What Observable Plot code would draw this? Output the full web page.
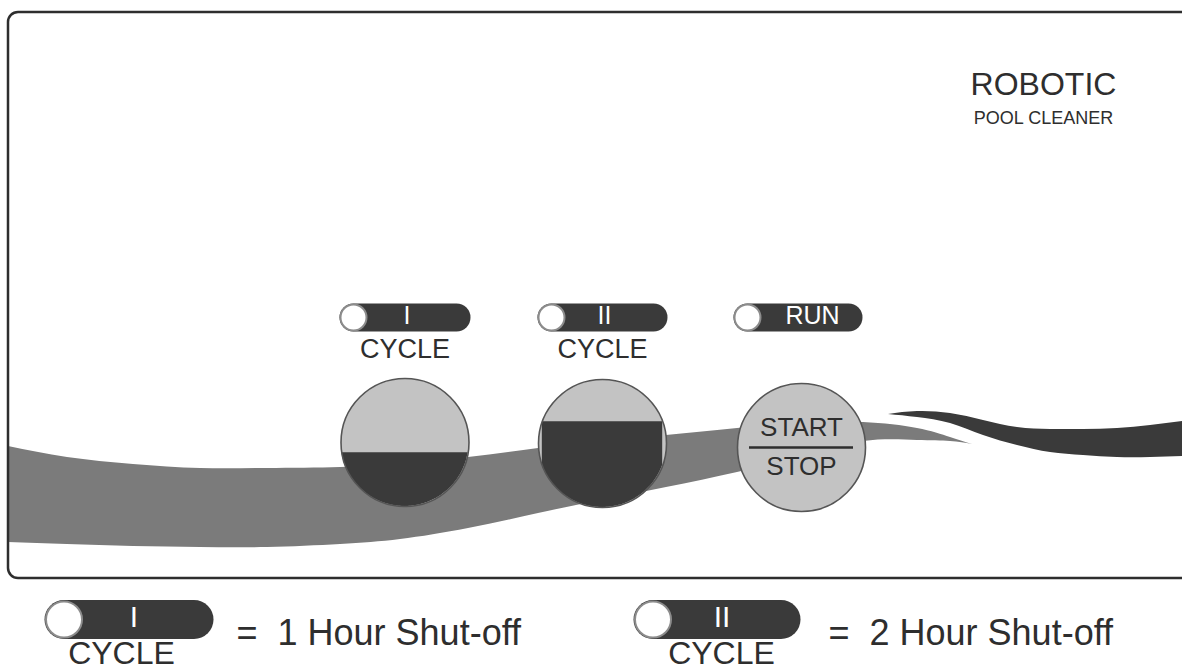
<!DOCTYPE html>
<html><head><meta charset="utf-8">
<script src="https://cdn.jsdelivr.net/npm/d3@7"></script>
<script src="https://cdn.jsdelivr.net/npm/@observablehq/plot@0.6"></script>
<style>html,body{margin:0;padding:0;background:#fff;overflow:hidden}</style>
</head><body><div id="chart"></div>
<script>
// ---- data ----
const panelFrame = [{x1: 8, x2: 1240, y1: 12, y2: 578}];
const titleText = ["ROBOTIC", "POOL CLEANER"];
const indicatorLabels = ["I", "II", "RUN"];
const indicatorX1 = [339, 537, 733];
const indicatorX2 = [470, 667, 862];
const indicatorY = 317;
const cycleLabels = ["CYCLE", "CYCLE"];
const buttonX = [404.5, 602, 801];
const buttonY = [442, 443, 447];
const buttonR = [64, 64, 63];
const cycleFill = [0.42, 0.67];        // dark share of cycle buttons
const startStop = ["START", "STOP"];
const bandX      = [8,   67,  133, 200, 267, 340, 400, 468, 538, 600, 666, 737, 800, 863, 917, 950, 972];
const bandTop    = [446, 457, 464, 468, 468, 467, 463, 457, 448, 441, 435, 428, 423, 422, 428, 437, 444];
const bandBottom = [542, 544, 546, 547, 547, 544, 539, 528, 513, 500, 487, 472, 456, 441, 440, 441, 444];
const swooshX      = [888, 917, 950, 983, 1017, 1050, 1083, 1117, 1150, 1182];
const swooshTop    = [414, 411, 413, 420, 427,  429,  429,  428,  425,  421];
const swooshBottom = [414, 417, 423, 435, 445,  452,  455,  457,  457,  456];
const legendLabels = ["I", "II"];
const legendText = ["=  1 Hour Shut-off", "=  2 Hour Shut-off"];
const legendX1 = [44, 633];
const legendX2 = [213, 800];
const legendY = 619;
const legendTextX = [236, 828];
const legendCycleX = [121, 721];

// ---- derived tables ----
const band = bandX.map((x, i) => ({x, y1: bandTop[i], y2: bandBottom[i]}));
const swoosh = swooshX.map((x, i) => ({x, y1: swooshTop[i], y2: swooshBottom[i]}));
const buttons = buttonX.map((x, i) => ({x, y: buttonY[i], r: buttonR[i]}));
function segment(i) {
  const cx = buttonX[i], cy = buttonY[i], r = buttonR[i];
  const split = cy + r - 2 * r * cycleFill[i];
  const h = Math.sqrt(r * r - (split - cy) ** 2);
  const pts = [];
  for (let k = 0; k <= 80; k++) {
    const x = cx - h + (2 * h * k) / 80;
    pts.push({x, y1: split, y2: cy + Math.sqrt(Math.max(0, r * r - (x - cx) ** 2)), b: i});
  }
  return pts;
}
const segments = [...segment(0), ...segment(1)];
const indicators = indicatorLabels.map((t, i) => ({t, x1: indicatorX1[i], x2: indicatorX2[i], y: indicatorY, h: 28}));
const legends = legendLabels.map((t, i) => ({t, x1: legendX1[i], x2: legendX2[i], y: legendY, h: 39}));

const ink = "#2e2e2e", dark = "#3a3a3a", light = "#c3c3c3", mid = "#7b7b7b";
const font = "'Liberation Sans', Arial, sans-serif";

const pillMarks = (rows, rc, fs, labelDx) => [
  Plot.link(rows, {x1: d => d.x1 + d.h / 2, x2: d => d.x2 - d.h / 2, y1: "y", y2: "y",
    stroke: dark, strokeWidth: d => d.h, strokeLinecap: "round"}),
  Plot.dot(rows, {x: d => d.x1 + d.h / 2, y: "y", r: rc, fill: "white", stroke: "#8c8c8c", strokeWidth: 2}),
  Plot.text(rows, {x: d => labelDx(d), y: d => d.y + fs * 0.36 - 3, text: "t", lineAnchor: "bottom",
    fill: "white", fontSize: fs, fontFamily: font})
];

const chart = Plot.plot({
  width: 1182, height: 672,
  margin: 0,
  x: {domain: [0, 1182], range: [0, 1182], axis: null},
  y: {domain: [0, 672], range: [0, 672], axis: null},
  style: {background: "white", overflow: "hidden"},
  marks: [
    Plot.areaY(band, {x: "x", y1: "y1", y2: "y2", fill: mid, curve: "natural"}),
    Plot.areaY(swoosh, {x: "x", y1: "y1", y2: "y2", fill: dark, curve: "natural"}),
    Plot.rect(panelFrame, {x1: "x1", x2: "x2", y1: "y1", y2: "y2", rx: 10, ry: 10,
      fill: "none", stroke: ink, strokeWidth: 2.5}),
    Plot.dot(buttons, {x: "x", y: "y", r: 64, fill: light}),
    Plot.areaY(segments, {x: "x", y1: "y1", y2: "y2", z: "b", fill: dark, curve: "linear"}),
    Plot.dot(buttons, {x: "x", y: "y", r: 64, fill: "none", stroke: "#555", strokeWidth: 1.6}),
    // start/stop
    Plot.ruleY([buttonY[2]], {x1: buttonX[2] - 52, x2: buttonX[2] + 52, stroke: ink, strokeWidth: 2.5}),
    Plot.text([startStop[0]], {x: buttonX[2], y: buttonY[2] - 12, text: d => d, lineAnchor: "bottom",
      fontSize: 26, fontFamily: font, fill: ink}),
    Plot.text([startStop[1]], {x: buttonX[2], y: buttonY[2] + 27, text: d => d, lineAnchor: "bottom",
      fontSize: 26, fontFamily: font, fill: ink}),
    // indicators
    ...pillMarks(indicators, 13, 25, d => d.t === "RUN" ? d.x1 + 79 : (d.x1 + d.x2) / 2 + 2),
    Plot.text(cycleLabels, {x: (d, i) => (indicatorX1[i] + indicatorX2[i]) / 2, y: 357, text: d => d,
      lineAnchor: "bottom", fontSize: 27, fontFamily: font, fill: ink}),
    // title
    Plot.text([titleText[0]], {x: 1043, y: 94, text: d => d, lineAnchor: "bottom", fontSize: 32, fontFamily: font, fill: ink}),
    Plot.text([titleText[1]], {x: 1043, y: 123, text: d => d, lineAnchor: "bottom", fontSize: 18, fontFamily: font, fill: ink}),
    // legend
    ...pillMarks(legends, 18, 30, d => (d.x1 + d.x2) / 2 + 5),
    Plot.text(cycleLabels, {x: (d, i) => legendCycleX[i], y: 663, text: d => d,
      lineAnchor: "bottom", fontSize: 32, fontFamily: font, fill: ink}),
    Plot.text(legendText, {x: (d, i) => legendTextX[i], y: 644, text: d => d, textAnchor: "start",
      lineAnchor: "bottom", fontSize: 36, fontFamily: font, fill: ink})
  ]
});
document.getElementById("chart").append(chart);
</script></body></html>
